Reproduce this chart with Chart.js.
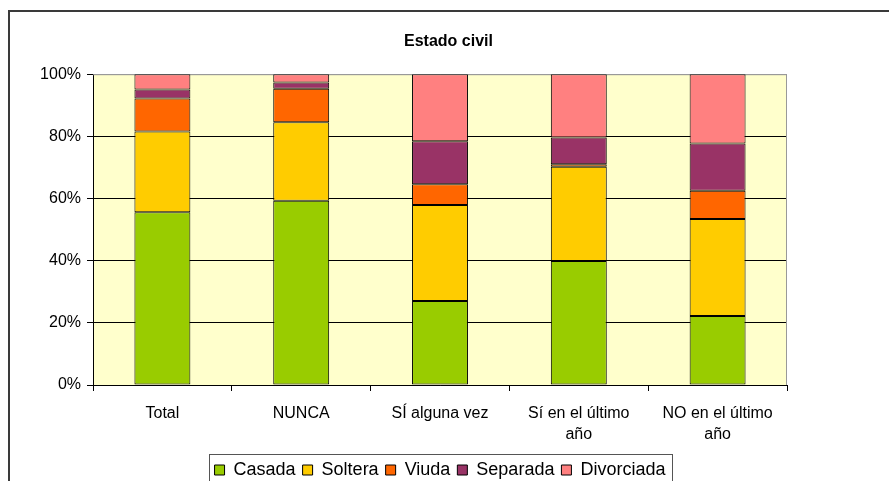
<!DOCTYPE html>
<html>
<head>
<meta charset="utf-8">
<script src="https://cdn.jsdelivr.net/npm/chart.js@4.4.1/dist/chart.umd.min.js"></script>
<style>
  html, body { margin: 0; padding: 0; background: #fff; }
  #wrap { width: 889px; height: 481px; }
</style>
</head>
<body>
<div id="wrap"><canvas id="myChart" width="889" height="481"></canvas></div>
<script>
const categories = [['Total'], ['NUNCA'], ['SÍ alguna vez'], ['Sí en el último', 'año'], ['NO en el último', 'año']];
const casada = [55.6, 59.3, 27.0, 39.9, 22.2];
const soltera = [26.0, 25.2, 30.9, 30.3, 31.2];
const viuda = [10.6, 10.8, 6.7, 0.8, 9.1];
const separada = [2.9, 2.0, 13.8, 8.6, 15.2];
const divorciada = [4.9, 2.7, 21.6, 20.4, 22.3];
const yTicks = [0, 20, 40, 60, 80, 100];

const FONT = "'Liberation Sans', Arial, sans-serif";

// frame, plot background and the legend box
const decor = {
    id: 'decor',
    beforeDraw(chart) {
        const {ctx, chartArea: a} = chart;
        ctx.save();
        ctx.fillStyle = '#fff';
        ctx.fillRect(0, 0, chart.width, chart.height);
        ctx.strokeStyle = '#3a3a3a';
        ctx.lineWidth = 2;
        ctx.strokeRect(9, 11, chart.width + 20, chart.height + 20);
        ctx.fillStyle = '#FFFFCC';
        ctx.fillRect(a.left, a.top, a.right - a.left, a.bottom - a.top);
        ctx.restore();
    },
    beforeDatasetsDraw(chart) {
        const {ctx, chartArea: a} = chart;
        ctx.save();
        ctx.strokeStyle = '#999';
        ctx.lineWidth = 1;
        ctx.beginPath();
        ctx.moveTo(a.left, a.top + 0.5);
        ctx.lineTo(a.right - 0.5, a.top + 0.5);
        ctx.lineTo(a.right - 0.5, a.bottom);
        ctx.stroke();
        ctx.restore();
    },
    afterDraw(chart) {
        const hb = chart.legend.legendHitBoxes;
        if (!hb || !hb.length) return;
        const x0 = hb[0].left - 6;
        const last = hb[hb.length - 1];
        const x1 = last.left + last.width + 6;
        const ctx = chart.ctx;
        ctx.save();
        ctx.strokeStyle = '#555';
        ctx.lineWidth = 1;
        ctx.strokeRect(Math.round(x0) + 0.5, 454.5, Math.round(x1 - x0), 40);
        ctx.restore();
    }
};

new Chart(document.getElementById('myChart'), {
    type: 'bar',
    plugins: [decor],
    data: {
        labels: categories,
        datasets: [
            {label: 'Casada', data: casada, backgroundColor: '#99CC00'},
            {label: 'Soltera', data: soltera, backgroundColor: '#FFCC00'},
            {label: 'Viuda', data: viuda, backgroundColor: '#FF6600'},
            {label: 'Separada', data: separada, backgroundColor: '#993366'},
            {label: 'Divorciada', data: divorciada, backgroundColor: '#FF8080'}
        ].map(d => Object.assign(d, {
            borderColor: '#000',
            borderWidth: 1,
            borderSkipped: false,
            categoryPercentage: 1,
            barPercentage: 0.403
        }))
    },
    options: {
        responsive: false,
        animation: false,
        layout: {padding: {left: 8, right: 0, top: 0, bottom: -8}},
        plugins: {
            title: {
                display: true,
                text: 'Estado civil',
                color: '#000',
                font: {family: FONT, size: 16, weight: 'bold'},
                padding: {top: 32, bottom: 23}
            },
            legend: {
                position: 'bottom',
                fullSize: false,
                labels: {
                    color: '#000',
                    font: {family: FONT, size: 18},
                    boxWidth: 10,
                    boxHeight: 10,
                    padding: 7
                }
            },
            tooltip: {enabled: false}
        },
        scales: {
            x: {
                stacked: true,
                grid: {
                    display: true,
                    offset: true,
                    drawOnChartArea: false,
                    tickLength: 6,
                    color: '#000'
                },
                border: {color: '#000'},
                ticks: {
                    color: '#000',
                    font: {family: FONT, size: 16, lineHeight: 1.3},
                    padding: 12,
                    maxRotation: 0
                },
                afterFit: s => { s.height = 69; }
            },
            y: {
                stacked: true,
                min: 0,
                max: 100,
                afterBuildTicks: s => { s.ticks = yTicks.map(v => ({value: v})); },
                grid: {
                    color: c => (c.tick && c.tick.value === 100 ? '#999' : '#000'),
                    tickColor: '#000',
                    tickLength: 6
                },
                border: {color: '#000'},
                ticks: {
                    color: '#000',
                    font: {family: FONT, size: 16},
                    padding: 6,
                    callback: v => v + '%'
                },
                afterFit: s => { s.width = 85; }
            },
            y2: {
                type: 'linear',
                position: 'right',
                display: true,
                grid: {display: false},
                border: {display: false},
                ticks: {display: false},
                afterFit: s => { s.width = 102; }
            }
        }
    }
});
</script>
</body>
</html>
